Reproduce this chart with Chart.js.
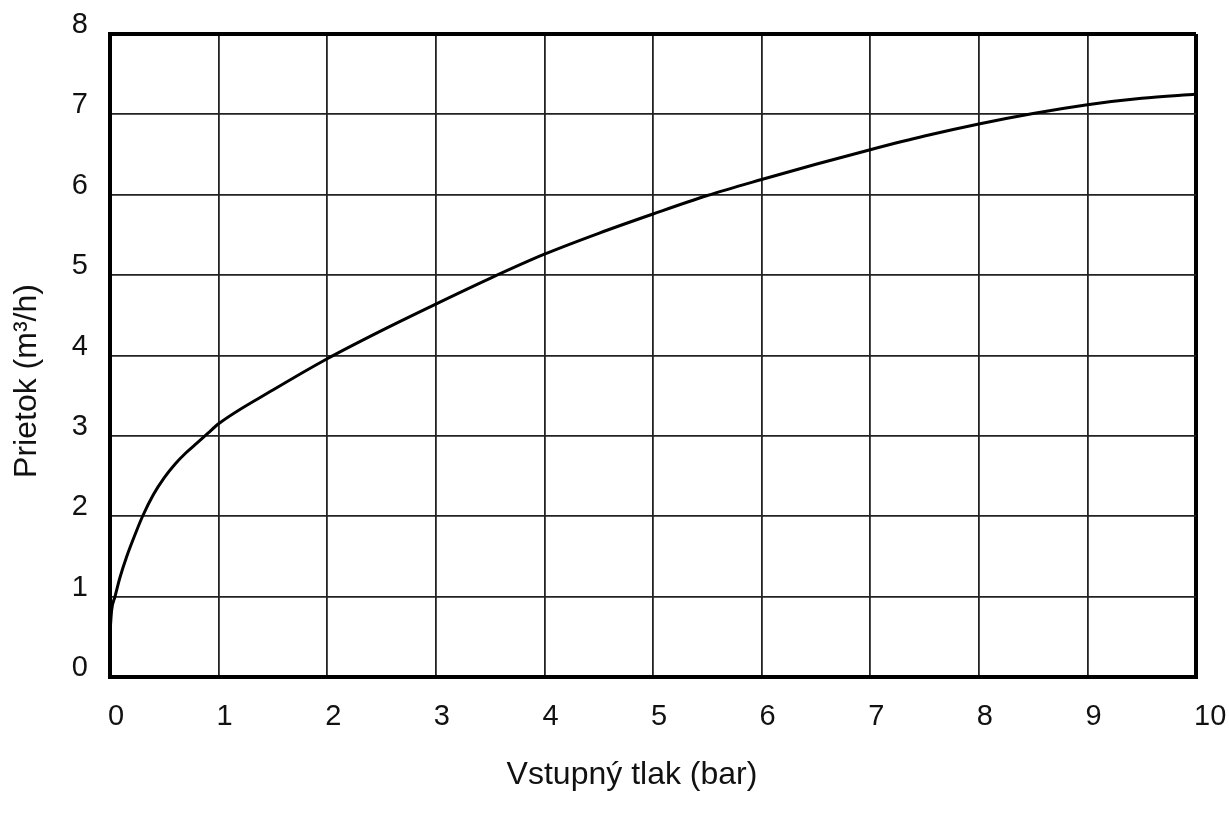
<!DOCTYPE html>
<html>
<head>
<meta charset="utf-8">
<script src="https://cdn.jsdelivr.net/npm/chart.js@4.4.1/dist/chart.umd.min.js"></script>
<style>
  html, body { margin: 0; padding: 0; background: #fff; }
  #wrap { width: 1229px; height: 818px; position: relative; }
</style>
</head>
<body>
<div id="wrap"><canvas id="c"></canvas></div>
<script>
// Data
const pressureBar = [0, 0.015, 0.046, 0.092, 0.154, 0.23, 0.30, 0.40, 0.50, 0.60, 0.70, 0.80, 0.90, 1.0, 1.5, 2.0, 2.5, 3.0, 3.5, 4.0, 4.5, 5.0, 5.5, 6.0, 6.5, 7.0, 7.5, 8.0, 8.5, 9.0, 9.5, 10.0];
const flowM3h    = [0.55, 0.83, 1.0, 1.24, 1.50, 1.77, 2.0, 2.27, 2.48, 2.65, 2.79, 2.91, 3.03, 3.15, 3.57, 3.96, 4.31, 4.64, 4.96, 5.26, 5.52, 5.76, 5.99, 6.19, 6.38, 6.56, 6.73, 6.88, 7.01, 7.12, 7.20, 7.25];
const xTitle = 'Vstupný tlak (bar)';
const yTitle = 'Prietok (m³/h)';

const FONT = '"Liberation Sans", Arial, sans-serif';

const titlePlugin = {
  id: 'axisTitles',
  afterDraw(chart) {
    const ctx = chart.ctx;
    ctx.save();
    ctx.fillStyle = '#111';
    ctx.font = '32px ' + FONT;
    ctx.textAlign = 'center';
    ctx.textBaseline = 'middle';
    ctx.fillText(xTitle, 632, 775);
    ctx.translate(27, 381);
    ctx.rotate(-Math.PI / 2);
    ctx.fillText(yTitle, 0, 0);
    ctx.restore();
  }
};

const isEdge = (ctx, max) => ctx.tick && (ctx.tick.value === 0 || ctx.tick.value === max);
const edgeWidth = (max) => (ctx) => isEdge(ctx, max) ? 4 : 1.8;
const edgeColor = (max) => (ctx) => isEdge(ctx, max) ? '#000' : '#222';

new Chart(document.getElementById('c'), {
  type: 'line',
  data: {
    datasets: [{
      data: pressureBar.map((x, i) => ({ x: x, y: flowM3h[i] })),
      borderColor: '#000',
      borderWidth: 3,
      pointRadius: 0,
      fill: false,
      cubicInterpolationMode: 'monotone'
    }]
  },
  options: {
    responsive: true,
    maintainAspectRatio: false,
    animation: false,
    layout: { padding: { left: 0, top: 34, right: 33, bottom: 0 } },
    plugins: { legend: { display: false }, tooltip: { enabled: false } },
    scales: {
      x: {
        type: 'linear',
        min: 0, max: 10,
        afterFit: (s) => { s.height = 141; s.paddingLeft = 0; s.paddingRight = 0; },
        ticks: {
          stepSize: 1,
          align: 'start',
          labelOffset: -2,
          padding: 23,
          color: '#111',
          font: { family: FONT, size: 29 },
          maxRotation: 0
        },
        grid: { drawTicks: false, color: edgeColor(10), lineWidth: edgeWidth(10) },
        border: { display: true, color: '#000', width: 4 }
      },
      y: {
        type: 'linear',
        min: 0, max: 8,
        afterFit: (s) => { s.width = 110; s.paddingTop = 0; s.paddingBottom = 0; },
        ticks: {
          stepSize: 1,
          labelOffset: -9,
          padding: 22,
          color: '#111',
          font: { family: FONT, size: 29 }
        },
        grid: { drawTicks: false, color: edgeColor(8), lineWidth: edgeWidth(8) },
        border: { display: true, color: '#000', width: 4 }
      }
    }
  },
  plugins: [titlePlugin]
});
</script>
</body>
</html>
